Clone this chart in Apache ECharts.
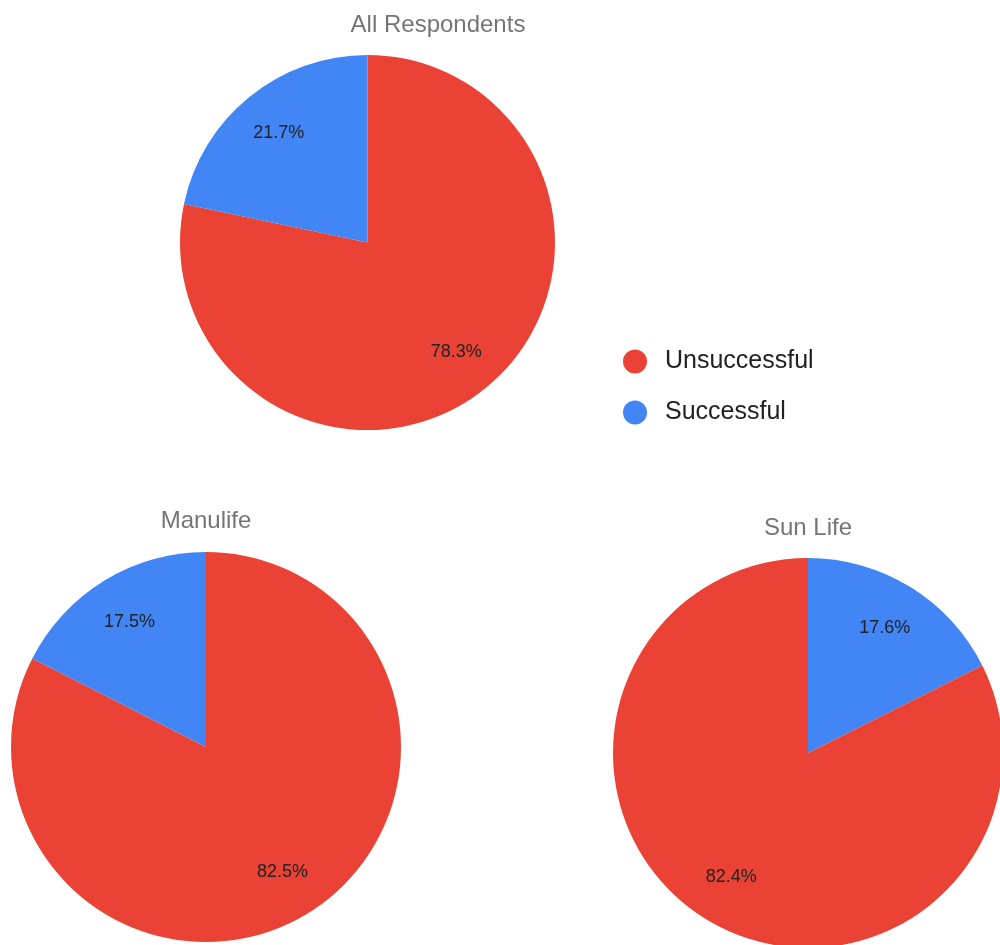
<!DOCTYPE html>
<html>
<head>
<meta charset="utf-8">
<script src="https://cdn.jsdelivr.net/npm/echarts@6/dist/echarts.min.js"></script>
<style>
html,body{margin:0;padding:0;background:#fff;}
#chart{width:1000px;height:945px;}
</style>
</head>
<body>
<div id="chart"></div>
<script>
const categories = ['Unsuccessful', 'Successful'];
const colors = { Unsuccessful: '#ea4335', Successful: '#4285f4' };
const allRespondents = [78.3, 21.7];
const manulife = [82.5, 17.5];
const sunLife = [82.4, 17.6];
const titles = ['All Respondents', 'Manulife', 'Sun Life'];

const FONT = "'Liberation Sans', Arial, sans-serif";

const pies = [
  { title: titles[0], values: allRespondents, order: [0, 1], center: [367.5, 242.5], r: 187.5, titleX: 433, titleY: 8 },
  { title: titles[1], values: manulife, order: [0, 1], center: [206, 747], r: 195, titleX: 201, titleY: 504 },
  { title: titles[2], values: sunLife, order: [1, 0], center: [808, 753], r: 195, titleX: 803, titleY: 511 }
];

function makeData(p) {
  return p.order.map(i => ({
    name: categories[i],
    value: p.values[i],
    itemStyle: { color: colors[categories[i]] }
  }));
}

const series = [];
const title = [];
pies.forEach(p => {
  title.push({
    text: p.title,
    left: p.titleX,
    top: p.titleY,
    textAlign: 'center',
    textStyle: { fontFamily: FONT, fontSize: 24, fontWeight: 'normal', color: '#757575' }
  });
  series.push({
    type: 'pie',
    center: p.center,
    radius: [0, p.r],
    startAngle: 90,
    clockwise: true,
    data: makeData(p),
    label: { show: false },
    labelLine: { show: false },
    emphasis: { disabled: true },
    silent: true,
    animation: false
  });
  // label carrier: same data, transparent, larger radius so inside labels sit at ~0.735 R
  series.push({
    type: 'pie',
    center: p.center,
    radius: [0, p.r * 1.47],
    startAngle: 90,
    clockwise: true,
    data: makeData(p).map(d => Object.assign({}, d, { itemStyle: { color: 'rgba(0,0,0,0)' } })),
    label: {
      show: true,
      position: 'inside',
      formatter: pr => pr.value.toFixed(1) + '%',
      fontFamily: FONT,
      fontSize: 18,
      color: '#222'
    },
    labelLine: { show: false },
    emphasis: { disabled: true },
    silent: true,
    animation: false,
    z: 3
  });
});

const chart = echarts.init(document.getElementById('chart'), null, { renderer: 'canvas' });
chart.setOption({
  backgroundColor: '#ffffff',
  animation: false,
  title: title,
  legend: {
    orient: 'vertical',
    left: 618,
    top: 344,
    icon: 'circle',
    itemWidth: 50,
    itemHeight: 24,
    itemGap: 26,
    data: categories.map(c => ({ name: c, itemStyle: { color: colors[c] } })),
    textStyle: { fontFamily: FONT, fontSize: 25, color: '#222' },
    selectedMode: false
  },
  series: series
});
</script>
</body>
</html>
